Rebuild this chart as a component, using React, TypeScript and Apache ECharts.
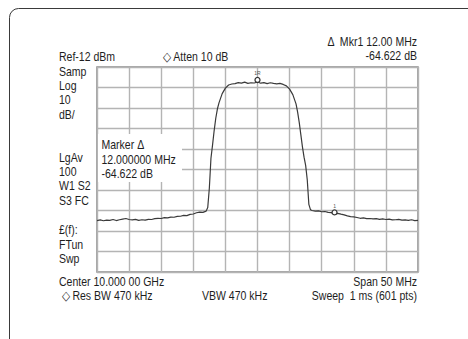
import React, { useEffect, useRef } from "react";
import * as echarts from "echarts";

// Trace: frequency (MHz) and level (dBm)
const freqMHz = [
  9975, 9975.5, 9976, 9976.5, 9977, 9977.5, 9978, 9978.5, 9979, 9979.5,
  9980, 9980.5, 9981, 9981.5, 9982, 9982.5, 9983, 9983.5, 9984, 9984.5,
  9985, 9985.5, 9986, 9986.5, 9987, 9987.5, 9988, 9988.5, 9989, 9989.5,
  9990, 9990.5, 9991, 9991.5, 9992, 9992.25, 9992.5, 9992.75, 9993, 9993.25,
  9993.5, 9993.75, 9994, 9994.5, 9995, 9995.5, 9996, 9996.5, 9997, 9997.5,
  9998, 9998.5, 9999, 9999.5, 10000, 10000.5, 10001, 10001.5, 10002, 10002.5,
  10003, 10003.5, 10004, 10004.5, 10005, 10005.5, 10006, 10006.25, 10006.5, 10006.75,
  10007, 10007.25, 10007.5, 10007.75, 10008, 10008.25, 10008.5, 10009, 10009.5, 10010,
  10010.5, 10011, 10011.5, 10012, 10012.5, 10013, 10013.5, 10014, 10014.5, 10015,
  10015.5, 10016, 10016.5, 10017, 10017.5, 10018, 10018.5, 10019, 10019.5, 10020,
  10020.5, 10021, 10021.5, 10022, 10022.5, 10023, 10023.5, 10024, 10024.5, 10025,
];
const levelDBm = [
  -86.9, -86.6, -87.0, -86.7, -86.8, -86.4, -86.9, -86.5, -86.2, -85.9,
  -86.4, -86.6, -86.3, -86.8, -86.5, -86.7, -86.3, -86.4, -86.0, -85.8,
  -85.9, -85.5, -85.6, -85.2, -85.3, -84.9, -84.8, -84.4, -84.5, -83.9,
  -83.7, -83.1, -82.8, -82.9, -82.3, -80.5, -71.0, -56.5, -50.0, -43.0,
  -37.0, -32.5, -29.5, -25.0, -22.3, -20.8, -20.3, -20.1, -19.6, -19.9,
  -19.4, -20.0, -19.7, -19.8, -19.3, -19.9, -19.6, -20.1, -19.7, -20.0,
  -20.2, -20.0, -20.5, -21.2, -22.8, -25.5, -30.0, -34.0, -39.0, -45.0,
  -51.0, -56.0, -60.0, -67.0, -79.0, -81.6, -82.0, -82.3, -82.2, -82.6,
  -82.5, -82.9, -83.0, -83.9, -83.4, -83.8, -84.1, -84.6, -85.0, -85.1,
  -85.4, -85.8, -85.6, -86.0, -85.9, -86.1, -86.0, -86.3, -86.1, -86.4,
  -86.2, -86.6, -86.5, -86.3, -86.7, -86.6, -86.8, -86.5, -86.9, -86.8,
];

const REF_LEVEL = -12; // dBm, top of screen
const DB_PER_DIV = 10;
const DIVS = 10;
const START_MHZ = 9975;
const STOP_MHZ = 10025;

const markerFreqs = [10000, 10012];
const markerNames = ["1R", "1"];

const leftLabels = [
  ["Samp", 71.7], ["Log", 86], ["10", 100], ["dB/", 114.3],
  ["LgAv", 157.7], ["100", 172], ["W1 S2", 186], ["S3 FC", 201],
  ["£(f):", 230], ["FTun", 244.3], ["Swp", 258.5],
] as const;

const markerBoxLines = ["Marker \u0394", "12.000000 MHz", "-64.622 dB"];

const FONT = "13px 'Liberation Sans', Arial, sans-serif";
const TXT = "#1e1e1e";
const SX = 0.81;

export default function App() {
  const ref = useRef<HTMLDivElement>(null);
  useEffect(() => {
    if (!ref.current) return;
    const chart = echarts.init(ref.current, undefined, { renderer: "svg" });
    const rel = freqMHz.map((f, i) => [f, levelDBm[i] - REF_LEVEL]);
    const markerData = markerFreqs.map((f, k) => {
      const i = freqMHz.indexOf(f);
      return {
        coord: [f, levelDBm[i] - REF_LEVEL],
        name: markerNames[k],
        label: { formatter: markerNames[k] },
      };
    });
    const t = (text: string, x: number, y: number, align = "left") => ({
      type: "text",
      x,
      y,
      z: 10,
      scaleX: SX,
      style: { text, font: FONT, fill: TXT, align, verticalAlign: "middle" },
    });
    chart.setOption({
      animation: false,
      backgroundColor: "#ffffff",
      grid: {
        left: 97,
        top: 67,
        width: 321,
        height: 205,
        show: true,
        borderColor: "#8a8a8a",
        borderWidth: 1.5,
        backgroundColor: "transparent",
      },
      xAxis: {
        type: "value",
        min: START_MHZ,
        max: STOP_MHZ,
        interval: (STOP_MHZ - START_MHZ) / DIVS,
        axisLine: { show: false },
        axisTick: { show: false },
        axisLabel: { show: false },
        splitLine: { show: true, lineStyle: { color: "#b4b4b4", width: 1.4 } },
      },
      yAxis: {
        type: "value",
        min: -DB_PER_DIV * DIVS,
        max: 0,
        interval: DB_PER_DIV,
        axisLine: { show: false },
        axisTick: { show: false },
        axisLabel: { show: false },
        splitLine: { show: true, lineStyle: { color: "#b4b4b4", width: 1.4 } },
      },
      series: [
        {
          type: "line",
          data: rel,
          showSymbol: false,
          lineStyle: { color: "#3a3a3a", width: 1.2 },
          z: 3,
          markPoint: {
            symbol: "circle",
            symbolSize: 5,
            symbolOffset: [0, -2],
            itemStyle: { color: "#ffffff", borderColor: "#333333", borderWidth: 1.3 },
            label: {
              show: true,
              position: "top",
              distance: 1,
              color: "#555",
              fontSize: 5,
              fontFamily: "'Liberation Sans', sans-serif",
            },
            data: markerData,
          },
        },
      ],
      graphic: [
        {
          type: "rect",
          z: 5,
          shape: { x: 0, y: 0, width: 485, height: 345, r: 9 },
          x: 9.5,
          y: 8.5,
          style: { fill: "none", stroke: "#3a3a3a", lineWidth: 1 },
        },
        {
          type: "rect",
          z: 6,
          shape: { x: 98, y: 134, width: 84, height: 48 },
          style: { fill: "#ffffff" },
        },
        t("Ref-12 dBm", 59, 56.7),
        t("\u25C7 Atten 10 dB", 163, 56.7),
        t("\u0394  Mkr1 12.00 MHz", 417, 41.7, "right"),
        t("-64.622 dB", 417, 55.5, "right"),
        ...leftLabels.map(([s, y]) => t(s, 59, y)),
        ...markerBoxLines.map((s, i) => t(s, 101.5, 145 + i * 14.5)),
        t("Center 10.000 00 GHz", 59, 281.7),
        t("Span 50 MHz", 417, 281.7, "right"),
        t("\u25C7 Res BW 470 kHz", 61.5, 295.7),
        t("VBW 470 kHz", 202, 295.7),
        t("Sweep  1 ms (601 pts)", 417, 295.7, "right"),
      ],
    });
    return () => chart.dispose();
  }, []);
  return (
    <div
      ref={ref}
      style={{ position: "fixed", left: 0, top: 0, width: 468, height: 339, background: "#fff" }}
    />
  );
}
